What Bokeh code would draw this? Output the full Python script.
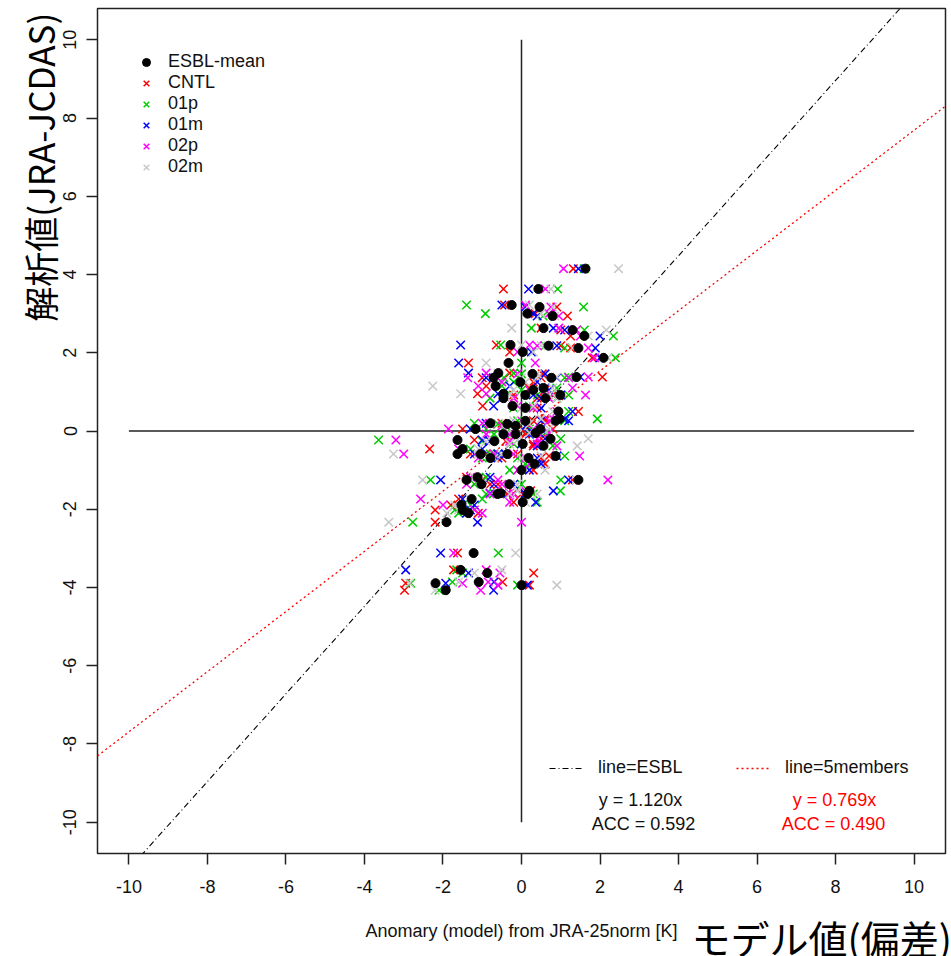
from bokeh.plotting import figure
from bokeh.models import Range1d, Label, Legend, LegendItem, FixedTicker, Title
from bokeh.embed import file_html
from bokeh.resources import INLINE

# ---- data ----
# analysis anomaly (y) for each case
obs_y = [4.15, 3.63, 3.22, 3.17, 3.00, 2.94, 2.63, 2.58, 2.43, 2.20,
         2.18, 2.12, 2.02, 1.87, 1.74, 1.48, 1.36, 1.15, 1.25, 1.46,
         1.36, 1.38, 1.10, 1.05, 0.92, 0.95, 0.84, 0.92, 0.84, 0.64,
         0.59, 0.50, 0.31, 0.20, 0.18, 0.13, 0.26, 0.26, 0.05, -0.08,
         -0.08, -0.05, 0.05, -0.23, -0.26, -0.33, -0.38, -0.20, -0.46, -0.59,
         -0.59, -0.69, -0.59, -0.69, -0.84, -0.64, -1.00, -1.36, -1.25, -1.25,
         -1.18, -1.36, -1.61, -1.59, -1.53, -1.61, -1.82, -1.74, -1.89, -2.02,
         -2.10, -2.33, -3.12, -3.55, -3.63, -3.86, -3.89, -4.07, -3.94]
# model anomaly (x): ensemble mean and members
esbl_mean = [1.63, 0.43, -0.25, 0.46, 0.15, 0.79, 0.56, 1.30, 1.60, -0.28,
             0.69, 1.45, 0.03, 2.09, -0.33, -0.59, -0.71, -0.66, -0.03, 0.28,
             0.76, 1.40, 0.56, 0.30, 0.10, -0.46, -0.46, 0.99, 0.61, -0.23,
             0.10, 0.94, 0.97, -0.79, -0.36, -0.15, 0.10, 0.87, -1.17, -0.46,
             -0.15, 0.36, 0.48, -1.63, -0.69, 0.03, 0.56, 0.74, -1.50, -1.63,
             -1.04, -0.79, -0.36, 0.18, 0.33, 0.87, 0.00, -0.31, 1.45, -1.40,
             -1.12, -1.02, -0.61, -0.53, 0.20, 0.15, 0.03, -1.27, -1.53, -1.50,
             -1.35, -1.91, -1.22, -1.55, -0.87, -1.09, -2.19, -1.93, 0.00]
cntl = [1.32, -0.46, -0.43, 0.90, 0.35, 1.17, 0.50, 1.00, 1.25, -0.64,
        1.00, 1.25, -0.30, 1.80, -1.35, -0.30, -1.00, -0.90, 0.30, 0.53,
        0.50, 2.06, 0.20, 0.60, -0.20, -1.12, -0.20, 0.80, 0.40, -0.99,
        0.40, 1.45, 0.60, -0.50, -0.10, 0.20, 0.30, 0.60, -1.50, -0.20,
        0.10, 0.10, 0.80, -1.20, -0.40, 0.30, 0.30, 0.50, -2.34, -0.90,
        -1.30, -0.50, -0.10, 0.50, 0.60, 0.70, 0.30, -0.60, 1.30, -1.00,
        -1.40, -0.80, -0.36, -0.20, 0.23, 0.00, -0.20, -1.60, -1.80, -2.20,
        -1.10, -2.20, -1.63, -1.73, 0.31, -0.48, -2.95, -2.98, 0.20]
m01p = [1.60, 0.92, -1.40, 1.58, -0.92, 0.55, 0.25, 1.60, 2.34, -0.53,
        0.60, 1.10, 0.10, 2.39, 0.00, -0.20, -0.45, -0.50, -0.20, 0.00,
        1.10, 1.20, 0.90, 0.00, 0.40, -0.30, -0.80, 1.20, 0.90, 0.20,
        -0.20, 1.20, 1.93, -1.20, -0.60, -0.40, -0.10, 1.10, -0.90, -0.70,
        -0.40, 0.60, 0.20, -3.64, -1.00, -0.20, 0.80, 1.00, -1.30, -0.70,
        -0.80, -1.00, -0.60, -0.10, 0.10, 1.10, -0.30, 0.00, 1.00, -2.32,
        -0.90, -1.20, -0.90, -0.70, 0.99, 0.30, 0.40, -1.00, -1.30, -1.70,
        -1.60, -2.77, -0.59, -1.65, -1.50, -1.76, -2.82, -2.10, -0.10]
m01m = [1.45, 0.18, -0.50, 0.10, 0.30, 0.40, 0.81, 1.10, 2.00, -1.55,
        0.90, 1.88, 0.25, 2.00, -1.60, -1.35, -0.90, -0.30, 0.40, 0.60,
        0.90, 1.50, 0.60, 0.70, 0.30, -0.60, -0.50, 1.00, 0.50, -0.71,
        0.50, 1.30, 1.10, -0.90, -0.30, 0.10, 0.50, 1.20, -1.30, -0.30,
        0.20, 0.30, 0.50, -1.00, -0.80, 0.00, 0.40, 0.60, -1.00, -0.60,
        -1.20, -0.60, -0.40, 0.40, 0.50, 0.90, 0.20, -0.20, 1.20, -2.06,
        -0.80, -0.70, -0.50, -0.80, 0.81, 0.10, 0.36, -1.50, -1.20, -1.30,
        -1.40, -1.12, -2.06, -2.95, -1.35, -0.70, -1.93, -0.71, 0.15]
m02p = [1.07, 0.61, 0.10, 0.75, 0.70, 0.95, 0.95, 1.40, 1.50, 0.20,
        0.40, 1.70, -0.10, 1.86, 0.35, -0.90, -1.37, -1.10, -0.50, -0.10,
        1.20, 1.70, 1.30, 0.20, 0.60, -0.90, -0.20, 1.63, 0.70, -0.10,
        0.30, 0.90, 0.80, -1.00, -0.80, -0.50, 0.00, 0.70, -1.86, -0.90,
        -0.30, 0.70, 0.30, -3.20, -0.30, 0.40, 0.90, 0.40, -1.60, -3.00,
        -0.70, -1.10, -0.20, 0.10, 0.20, 1.48, -0.10, -0.50, 2.20, -0.60,
        -1.30, -1.40, -0.80, -0.30, 0.10, -0.20, -0.30, -2.57, -2.00, -1.20,
        -1.00, 0.00, -1.73, -0.90, -0.55, -0.85, -1.50, -1.04, -0.60]
m02m = [2.47, 0.75, 0.20, 0.80, 0.50, 0.85, -0.25, 2.16, 1.70, 0.00,
        0.50, 1.30, 0.30, 2.20, -0.90, -0.60, 0.00, -2.26, 0.10, 0.40,
        0.40, 0.90, 0.80, -0.20, -0.30, -1.55, -0.40, 0.70, 0.90, 0.30,
        0.00, 0.80, 0.50, -0.40, 0.20, -0.10, -0.20, 0.80, -0.40, -0.20,
        -0.10, 0.20, 0.70, -0.10, -0.90, -0.30, 1.42, 1.70, -1.10, -3.26,
        -1.10, -0.70, -0.50, 0.00, 0.30, 0.50, 0.60, -0.10, 1.40, -2.52,
        -1.20, -1.00, -0.30, -0.60, -0.10, 0.40, 0.10, -1.30, -1.70, -1.60,
        -1.90, -3.38, -0.15, -0.50, -1.20, -1.60, -2.85, -2.20, 0.90]

series_names = ["ESBL-mean", "CNTL", "01p", "01m", "02p", "02m"]
series_colors = ["#000000", "#ff0000", "#00cc00", "#0000ff", "#ff00ff", "#c8c8c8"]

slope_esbl, acc_esbl = 1.120, 0.592
slope_5mem, acc_5mem = 0.769, 0.490

ticks = [-10, -8, -6, -4, -2, 0, 2, 4, 6, 8, 10]
tick_labels = ["-10", "-8", "-6", "-4", "-2", "0", "2", "4", "6", "8", "10"]
axis_lim = 10.8
cross_half = 10

FONT = "Liberation Sans"
JFONT = "Noto Sans CJK JP"

p = figure(width=951, height=956, output_backend="svg", toolbar_location=None,
           x_range=Range1d(-axis_lim, axis_lim), y_range=Range1d(-axis_lim, axis_lim),
           min_border_left=97, min_border_right=6, min_border_top=8, min_border_bottom=103)
p.grid.visible = False
p.background_fill_color = "white"
p.border_fill_color = "white"
p.outline_line_color = "#222222"
p.outline_line_width = 1.5

overrides = dict(zip(ticks, tick_labels))
for ax in (p.xaxis, p.yaxis):
    ax.ticker = FixedTicker(ticks=ticks)
    ax.major_label_overrides = overrides
    ax.axis_line_color = None
    ax.major_tick_in = 0
    ax.major_tick_out = 11
    ax.major_tick_line_color = "#222222"
    ax.major_tick_line_width = 1.5
    ax.minor_tick_line_color = None
    ax.major_label_text_font = FONT
    ax.major_label_text_font_size = "18px"
    ax.major_label_text_color = "#111111"
p.xaxis.major_label_standoff = 15
p.yaxis.major_label_standoff = 10
p.yaxis.major_label_orientation = "parallel"

p.xaxis.axis_label = "Anomary (model) from JRA-25norm [K]"
p.xaxis.axis_label_text_font = FONT
p.xaxis.axis_label_text_font_size = "18px"
p.xaxis.axis_label_text_font_style = "normal"
p.xaxis.axis_label_text_color = "#111111"
p.xaxis.axis_label_standoff = 25

p.add_layout(Title(text="解析値(JRA-JCDAS)", align="right", offset=5, standoff=-8,
                   text_font=JFONT, text_font_size="35px", text_font_style="normal",
                   text_color="#000000"), "left")
p.add_layout(Title(text="モデル値(偏差)", align="left", vertical_align="top",
                   offset=594, standoff=-70,
                   text_font=JFONT, text_font_size="39px", text_font_style="normal",
                   text_color="#000000"), "below")

# zero cross lines
p.segment(x0=[0, -cross_half], y0=[-cross_half, 0], x1=[0, cross_half], y1=[cross_half, 0],
          line_color="#222222", line_width=1.5)

# regression lines
xl = [-axis_lim, axis_lim]
r_l1 = p.line(xl, [slope_esbl * v for v in xl], line_color="#000000", line_width=1.1,
              line_dash="6 3 1 3")
r_l2 = p.line(xl, [slope_5mem * v for v in xl], line_color="#ff0000", line_width=1.3,
              line_dash="2 3")

members = [cntl, m01p, m01m, m02p, m02m]
renderers = {}
for name, col, xs in zip(series_names[1:], series_colors[1:], members):
    renderers[name] = p.scatter(xs, obs_y, marker="x", size=12, line_color=col, line_width=1.5)
renderers["ESBL-mean"] = p.scatter(esbl_mean, obs_y, marker="circle", size=9,
                                   fill_color="#000000", line_color="#000000")

leg = Legend(items=[LegendItem(label=n, renderers=[renderers[n]]) for n in series_names],
             location=(38, 676), orientation="vertical", padding=0, margin=0, spacing=0,
             glyph_width=22, glyph_height=20, label_height=20, label_standoff=11,
             label_text_font=FONT, label_text_font_size="18px", label_text_color="#111111",
             border_line_color=None, background_fill_alpha=0)
p.add_layout(leg)

common = dict(padding=0, margin=0, glyph_width=34, glyph_height=20, label_height=20,
              label_standoff=15, label_text_font=FONT, label_text_font_size="18px",
              label_text_color="#111111", border_line_color=None, background_fill_alpha=0)
p.add_layout(Legend(items=[LegendItem(label="line=ESBL", renderers=[r_l1])],
                    location=(452, 75), **common))
p.add_layout(Legend(items=[LegendItem(label="line=5members", renderers=[r_l2])],
                    location=(639, 75), **common))

def lab(x, y, text, color="#111111"):
    p.add_layout(Label(x=x, y=y, x_units="screen", y_units="screen", text=text,
                       text_color=color, text_font=FONT, text_font_size="18px",
                       text_align="center", text_baseline="middle"))

lab(543, 54, f"y = {slope_esbl:.3f}x")
lab(546, 30, f"ACC = {acc_esbl:.3f}")
lab(737, 54, f"y = {slope_5mem:.3f}x", color="#ff0000")
lab(736, 30, f"ACC = {acc_5mem:.3f}", color="#ff0000")

open("out.html", "w").write(file_html(p, INLINE))
